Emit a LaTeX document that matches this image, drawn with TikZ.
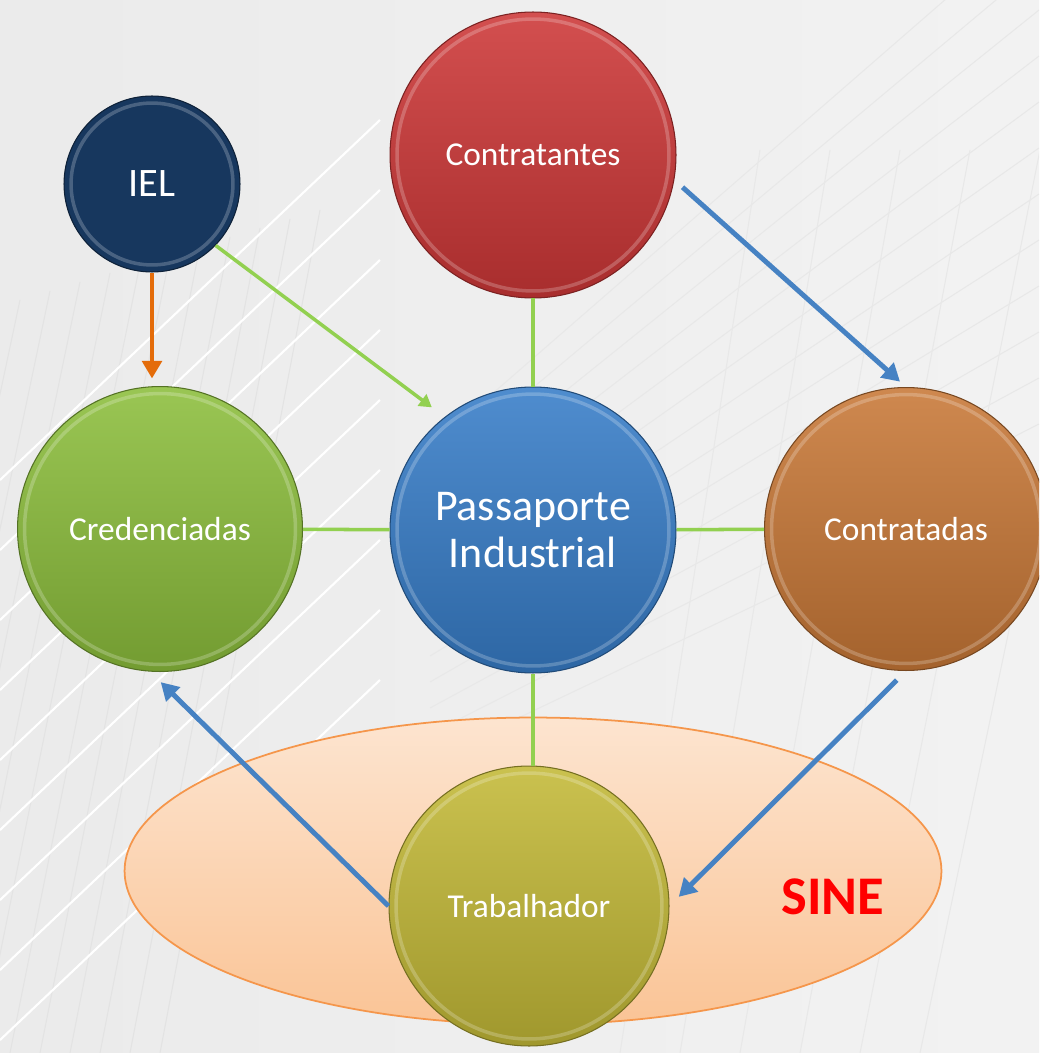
\documentclass[tikz,border=0pt]{standalone}
\usepackage{fontspec}
\setmainfont{Carlito}
\usetikzlibrary{arrows.meta,shapes.geometric}

\definecolor{azulescuro}{RGB}{23,55,94}
\definecolor{vermelho}{RGB}{205,55,55}
\definecolor{verde}{RGB}{140,190,60}
\definecolor{azul}{RGB}{55,125,200}
\definecolor{laranja}{RGB}{200,120,55}
\definecolor{oliva}{RGB}{195,185,55}
\definecolor{linhaverde}{RGB}{146,208,80}
\definecolor{setaazul}{RGB}{70,130,195}
\definecolor{setalaranja}{RGB}{228,108,10}
\definecolor{pessego}{RGB}{250,196,150}
\definecolor{bordapessego}{RGB}{245,150,75}
\definecolor{sinevermelho}{RGB}{255,0,0}

\tikzset{
  bola/.style 2 args={circle, inner sep=0pt, minimum size=#2, text=white,
    top color=#1!88!white, bottom color=#1!82!black, draw=#1!60!black,
    line width=0.6pt, align=center, font=\fontsize{19}{22}\selectfont,
    path picture={\draw[white, opacity=0.22, line width=2pt]
      (path picture bounding box.center) circle[radius=#2/2-4pt];}},
  liga/.style={linhaverde, line width=2pt},
  seta/.style={setaazul, line width=2.8pt, -{Triangle[length=10pt,width=11pt]}},
}

\begin{document}
\begin{tikzpicture}[x=0.02cm, y=-0.02cm]
\useasboundingbox (0,0) rectangle (1039,1053);
\clip (0,0) rectangle (1039,1053);

% fundo
\fill[left color=gray!16, middle color=white, right color=gray!10] (0,0) rectangle (1039,1053);
\foreach \i in {0,...,10}
  \draw[gray!22, line width=0.6pt] (20+30*\i, 300-9*\i) -- (-140+30*\i, 1053);
\foreach \i in {0,...,8}
  \draw[white, line width=1.2pt] (0, 480+70*\i) -- (380, 120+70*\i);
\foreach \i in {0,...,12}
  \draw[gray!18, line width=0.6pt] (430, 760-26*\i) -- (1039, 470-46*\i);
\foreach \i in {0,...,5}
  \draw[gray!18, line width=0.6pt] (620+60*\i, 1053) -- (760+70*\i, 150);

% SINE
\node[ellipse, minimum width=16.34cm, minimum height=6.14cm, draw=bordapessego,
  line width=1pt, top color=pessego!45!white, bottom color=pessego] (sine) at (533,871) {};
\node[text=sinevermelho, font=\fontsize{31}{36}\selectfont\bfseries] (sinetxt) at (833,897) {SINE};

% circulos
\node[bola={azulescuro}{3.52cm}, top color=azulescuro, bottom color=azulescuro,
  font=\fontsize{23}{26}\selectfont] (iel) at (152,184) {IEL};
\node[bola={vermelho}{5.72cm}] (contratantes) at (533,155) {Contratantes};
\node[bola={verde}{5.7cm}] (cred) at (160,529) {Credenciadas};
\node[bola={azul}{5.72cm}, font=\fontsize{25}{27}\selectfont] (pass) at (533,530) {Passaporte\\Industrial};
\node[bola={laranja}{5.66cm}] (contratadas) at (906,529) {Contratadas};
\node[bola={oliva}{5.6cm}] (trab) at (529,906) {Trabalhador};

% ligacoes
\draw[liga] (contratantes) -- (pass);
\draw[liga] (cred) -- (pass);
\draw[liga] (pass) -- (contratadas);
\draw[liga] (pass.south) -- (pass.south |- trab.north);

% setas
\draw[setalaranja, line width=2.8pt, -{Triangle[length=10pt,width=11pt]}, shorten >=0.15cm]
  (iel.south) -- (iel.south |- cred.north);
\draw[liga, -{Triangle[length=7pt,width=8pt]}, shorten >=0.32cm] (iel.-44) -- (pass.128);
\draw[seta, shorten <=0.22cm, shorten >=0.16cm] (contratantes.-10) -- (contratadas.north);
\draw[seta, shorten <=0.26cm, shorten >=0.26cm] (contratadas.south) -- (trab.east);
\draw[seta, shorten >=0.3cm] (trab.west) -- (cred.-94);
\end{tikzpicture}
\end{document}
